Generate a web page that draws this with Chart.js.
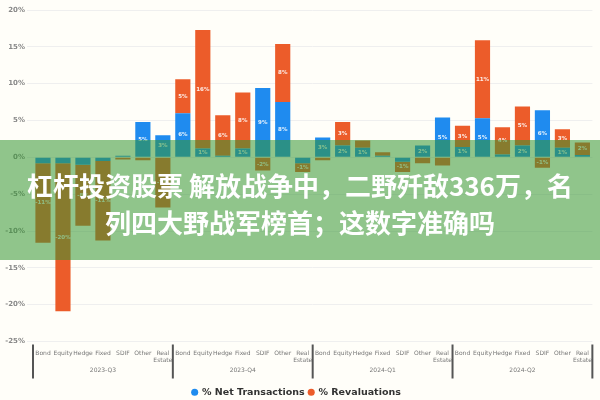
<!DOCTYPE html>
<html>
<head>
<meta charset="utf-8">
<script src="https://cdn.jsdelivr.net/npm/chart.js@4.4.1/dist/chart.umd.min.js"></script>
<style>
  html, body { margin: 0; padding: 0; background: #fffef9; }
  #wrap { position: relative; width: 600px; height: 400px; overflow: hidden; }
  #c { position: absolute; left: 0; top: 0; }
  #banner {
    position: absolute; left: 0; top: 140px; width: 600px; height: 120px;
    background: rgba(52, 150, 50, 0.55);
    color: #ffffff; text-align: center; white-space: nowrap;
    font-family: "Noto Sans CJK SC", "Noto Sans", sans-serif;
    font-weight: 700; font-size: 26px; line-height: 37px;
    padding-top: 26px; box-sizing: border-box;
  }
</style>
</head>
<body>
<div id="wrap">
  <canvas id="c" width="600" height="400"></canvas>
  <div id="banner">杠杆投资股票 解放战争中，二野歼敌336万，名<br>列四大野战军榜首；这数字准确吗</div>
</div>
<script>
// ---- data ----
const periods = ['2023-Q3', '2023-Q4', '2024-Q1', '2024-Q2'];
const assetClasses = ['Bond', 'Equity', 'Hedge', 'Fixed', 'SDIF', 'Other', ['Real', 'Estate']];
const netTransactions = [
  -0.8, -0.8, -1.0, -0.5, 0.2, 4.8, 3.0,
  6.0, 1.2, 0.2, 1.2, 9.4, 7.5, -0.8,
  2.7, 1.6, 1.3, 0.2, -0.6, 1.6, 5.4,
  1.4, 5.3, 0.4, 1.6, 6.4, 1.3, 0.3
];
const revaluations = [
  -10.8, -20.1, -8.3, -10.8, -0.3, -0.4, -6.8,
  4.6, 16.1, 5.5, 7.6, -1.8, 7.9, -1.2,
  -0.4, 3.2, 1.0, 0.5, -1.4, -0.8, -1.1,
  2.9, 10.6, 3.7, 5.3, -1.4, 2.5, 1.7
];
const yTicks = [-25, -20, -15, -10, -5, 0, 5, 10, 15, 20];

const labels = [];
periods.forEach(() => assetClasses.forEach(a => labels.push(a)));

const BLUE = '#1f8bef';
const ORANGE = '#ec5c2a';

const barLabelPlugin = {
  id: 'barLabels',
  afterDatasetsDraw(chart) {
    const ctx = chart.ctx;
    ctx.save();
    ctx.fillStyle = 'rgba(255,255,255,0.9)';
    ctx.font = 'bold 5.5px "DejaVu Sans", sans-serif';
    ctx.textAlign = 'center';
    ctx.textBaseline = 'middle';
    chart.data.datasets.forEach((ds, di) => {
      const meta = chart.getDatasetMeta(di);
      meta.data.forEach((el, i) => {
        const v = ds.data[i];
        const h = Math.abs(el.base - el.y);
        if (h < 8) return;
        ctx.fillText(Math.round(v) + '%', el.x, (el.y + el.base) / 2);
      });
    });
    ctx.restore();
  }
};

const separatorPlugin = {
  id: 'separators',
  afterDraw(chart) {
    const xs = chart.scales.x, x2 = chart.scales.x2;
    const w = xs.getPixelForValue(1) - xs.getPixelForValue(0);
    const ctx = chart.ctx;
    ctx.save();
    ctx.strokeStyle = '#555555';
    ctx.lineWidth = 2;
    for (let k = 0; k <= labels.length; k += assetClasses.length) {
      const px = k < labels.length ? xs.getPixelForValue(k) - w / 2 : xs.getPixelForValue(k - 1) + w / 2;
      ctx.beginPath();
      ctx.moveTo(px, chart.chartArea.bottom + 3);
      ctx.lineTo(px, x2.bottom - 5);
      ctx.stroke();
    }
    ctx.restore();
  }
};

new Chart(document.getElementById('c'), {
  type: 'bar',
  data: {
    labels: labels,
    datasets: [
      { label: '% Net Transactions', data: netTransactions, backgroundColor: BLUE, borderWidth: 0,
        categoryPercentage: 0.8, barPercentage: 0.95 },
      { label: '% Revaluations', data: revaluations, backgroundColor: ORANGE, borderWidth: 0,
        categoryPercentage: 0.8, barPercentage: 0.95 }
    ]
  },
  options: {
    responsive: false,
    devicePixelRatio: 1,
    animation: false,
    layout: { padding: { top: 10, right: 7, left: 0, bottom: -7 } },
    plugins: {
      legend: {
        position: 'bottom',
        labels: {
          usePointStyle: true, pointStyle: 'circle', boxWidth: 5, boxHeight: 5,
          padding: 4, color: '#333333',
          font: { family: '"DejaVu Sans", sans-serif', size: 9.5, weight: 'bold' }
        }
      },
      tooltip: { enabled: false }
    },
    scales: {
      x: {
        stacked: true,
        grid: { display: false, drawTicks: false },
        border: { display: false },
        ticks: { autoSkip: false, maxRotation: 0, minRotation: 0, padding: 8, color: '#777777',
                 font: { family: '"DejaVu Sans", sans-serif', size: 6 } },
        afterFit(s) { s.height = 22; }
      },
      x2: {
        type: 'category', labels: periods, position: 'bottom', offset: true,
        grid: { display: false, drawTicks: false },
        border: { display: false },
        ticks: { padding: 3, color: '#777777', font: { family: '"DejaVu Sans", sans-serif', size: 6 } },
        afterFit(s) { s.height = 20; }
      },
      y: {
        stacked: true,
        min: -25, max: 20,
        afterBuildTicks(s) { s.ticks = yTicks.map(v => ({ value: v })); },
        grid: { color: '#efefef', tickLength: 6 },
        border: { display: false },
        ticks: { callback: v => v + '%', color: '#888888', padding: 2,
                 font: { family: '"DejaVu Sans", sans-serif', size: 7, weight: 'bold' } },
        afterFit(s) { s.width = 33; }
      }
    }
  },
  plugins: [barLabelPlugin, separatorPlugin]
});
</script>
</body>
</html>
